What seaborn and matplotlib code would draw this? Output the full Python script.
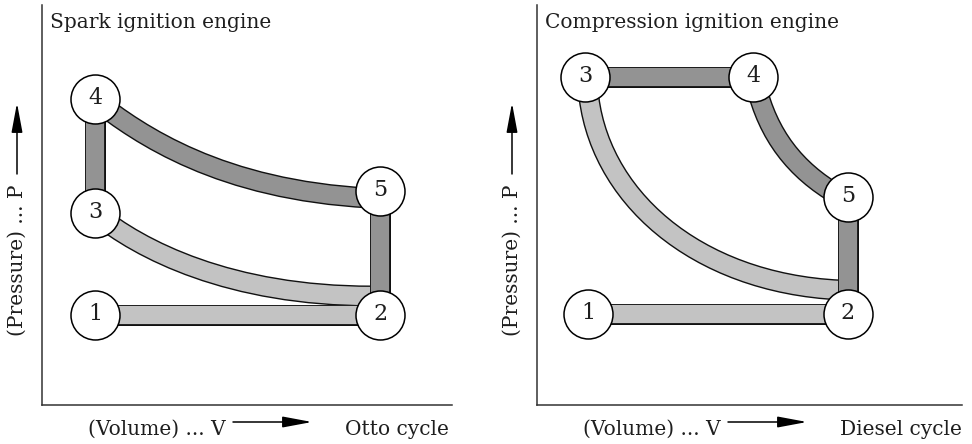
import numpy as np
import pandas as pd
import matplotlib
matplotlib.use("Agg")
import matplotlib.pyplot as plt
from matplotlib.path import Path
from matplotlib.patches import PathPatch
import seaborn as sns

# ---------------- data (V, P in drawing units) ----------------
otto_labels = ["1", "2", "3", "4", "5"]
otto_V = [53, 338, 53, 53, 338]
otto_P = [90, 90, 192, 306, 214]
otto_straight = [("4", "3", "dark"), ("5", "2", "dark"), ("1", "2", "light")]
# cubic Bezier control points of the curved processes
otto_curve_45_V = [53, 98, 178, 328]
otto_curve_45_P = [305, 270, 215, 207]
otto_curve_32_V = [53, 98, 188, 330]
otto_curve_32_P = [192, 155, 109, 109]

diesel_labels = ["1", "2", "3", "4", "5"]
diesel_V = [51, 311, 48, 216, 311]
diesel_P = [91, 91, 328, 328, 208]
diesel_straight = [("3", "4", "dark"), ("5", "2", "dark"), ("1", "2", "light")]
diesel_curve_32_V = [51, 59, 158, 303]
diesel_curve_32_P = [317, 210, 122, 115]
diesel_curve_45_V = [219, 231, 258, 301]
diesel_curve_45_P = [320, 270, 235, 210]

otto_title = "Spark ignition engine"
diesel_title = "Compression ignition engine"
p_label = "(Pressure) ... P"
v_label = "(Volume) ... V"
otto_name = "Otto cycle"
diesel_name = "Diesel cycle"

# ---------------- style ----------------
sns.set_theme(style="white")
plt.rcParams["font.family"] = ["DejaVu Serif"]
PX = 72 / 100.0  # points per pixel at dpi 100
SHADE = {"dark": "#939393", "light": "#c3c3c3"}
FS = 14.5
TXT = "#1e1e1e"

fig = plt.figure(figsize=(9.72, 4.44), dpi=100)
fig.patch.set_facecolor("white")
axL = fig.add_axes([42 / 972, 39 / 444, 410 / 972, 400 / 444])
axR = fig.add_axes([537 / 972, 39 / 444, 425 / 972, 400 / 444])

ARROW = dict(arrowstyle="-|>,head_length=1.5,head_width=0.28",
             color="black", lw=1.1, shrinkA=0, shrinkB=0)


def band_line(ax, xs, ys, shade):
    ax.plot(xs, ys, color="#111111", lw=21 * PX, solid_capstyle="butt", zorder=2)
    ax.plot(xs, ys, color=SHADE[shade], lw=18.2 * PX, solid_capstyle="butt", zorder=2.1)


def band_curve(ax, xs, ys, shade, z=1):
    verts = list(zip(xs, ys))
    codes = [Path.MOVETO, Path.CURVE4, Path.CURVE4, Path.CURVE4]
    path = Path(verts, codes)
    ax.add_patch(PathPatch(path, fill=False, edgecolor="#111111", lw=21 * PX,
                           capstyle="butt", zorder=z))
    ax.add_patch(PathPatch(path, fill=False, edgecolor=SHADE[shade], lw=18.2 * PX,
                           capstyle="butt", zorder=z + 0.05))


def draw_cycle(ax, labels, V, P, straight, curves, xmax, title, name):
    df = pd.DataFrame({"state": labels, "V": V, "P": P})
    pos = {r.state: (r.V, r.P) for r in df.itertuples()}
    for xs, ys, shade in curves:
        band_curve(ax, xs, ys, shade)
    for a, b, shade in straight:
        band_line(ax, [pos[a][0], pos[b][0]], [pos[a][1], pos[b][1]], shade)
    sns.scatterplot(data=df, x="V", y="P", s=(49 * PX) ** 2, color="white",
                    edgecolor="black", linewidth=1.1, zorder=5, ax=ax, legend=False)
    for r in df.itertuples():
        ax.text(r.V, r.P + 1, r.state, ha="center", va="center", fontsize=16,
                color=TXT, zorder=6)
    ax.set_xlim(0, xmax)
    ax.set_ylim(0, 400)
    ax.set_xticks([])
    ax.set_yticks([])
    ax.set_xlabel("")
    ax.set_ylabel("")
    ax.set_facecolor("white")
    for s in ["top", "right"]:
        ax.spines[s].set_visible(False)
    for s in ["left", "bottom"]:
        ax.spines[s].set_visible(True)
        ax.spines[s].set_color("#333333")
        ax.spines[s].set_linewidth(1.1)
    ax.text(8, 383, title, ha="left", va="center", fontsize=FS, color=TXT)
    # pressure label + arrow
    ax.text(-25, 145, p_label, rotation=90, ha="center", va="center",
            fontsize=FS, color=TXT, clip_on=False)
    ax.annotate("", xy=(-25, 302), xytext=(-25, 231), xycoords="data",
                annotation_clip=False, arrowprops=ARROW)
    # volume label + arrow
    ax.text(46, -24, v_label, ha="left", va="center", fontsize=FS,
            color=TXT, clip_on=False)
    ax.annotate("", xy=(270, -17), xytext=(191, -17), xycoords="data",
                annotation_clip=False, arrowprops=ARROW)
    ax.text(303, -24, name, ha="left", va="center", fontsize=FS,
            color=TXT, clip_on=False)


draw_cycle(axL, otto_labels, otto_V, otto_P, otto_straight,
           [(otto_curve_45_V, otto_curve_45_P, "dark"),
            (otto_curve_32_V, otto_curve_32_P, "light")],
           410, otto_title, otto_name)
draw_cycle(axR, diesel_labels, diesel_V, diesel_P, diesel_straight,
           [(diesel_curve_32_V, diesel_curve_32_P, "light"),
            (diesel_curve_45_V, diesel_curve_45_P, "dark")],
           425, diesel_title, diesel_name)

fig.savefig("out.png", dpi=100, facecolor="white")
